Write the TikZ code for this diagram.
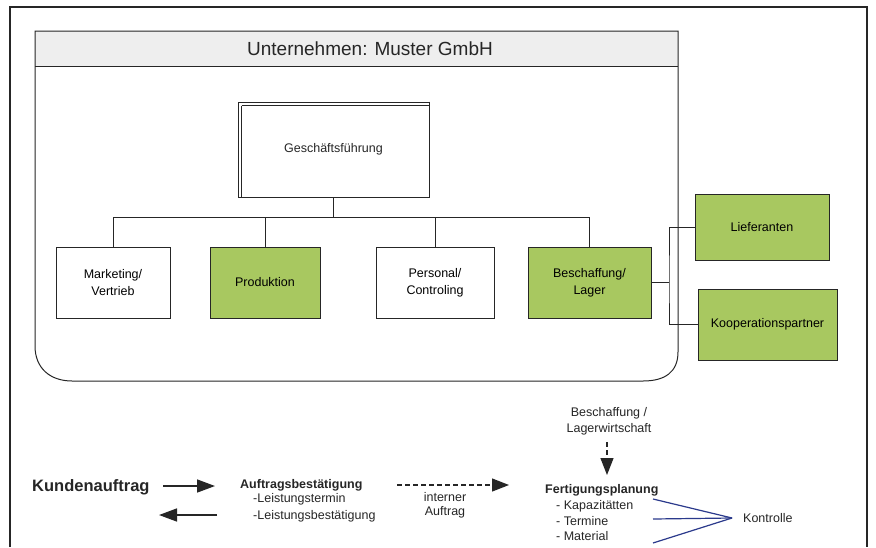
\documentclass[tikz,border=0pt]{standalone}
\usepackage{fontspec}
\setmainfont{Liberation Sans}
\usetikzlibrary{arrows.meta}
\definecolor{boxgreen}{HTML}{A8C860}
\definecolor{hdrgray}{HTML}{EEEEEE}
\definecolor{lineblue}{HTML}{2B3A8C}
\definecolor{ink}{HTML}{262626}
\begin{document}
\begin{tikzpicture}[x=1pt,y=-1pt,
  orgbox/.style={draw=ink, line width=0.9pt, inner sep=0pt, minimum height=71pt, align=center, font=\fontsize{12.5}{17}\selectfont},
  greenbox/.style={orgbox, fill=boxgreen},
  txt/.style={inner sep=0pt, font=\fontsize{12.5}{15}\selectfont, text=ink},
  boldtxt/.style={txt, font=\fontsize{12.5}{15}\selectfont\bfseries},
  conn/.style={draw=ink, line width=0.9pt},
  bigarrow/.style={draw=ink, line width=1.5pt, -{Triangle[length=18pt,width=13pt]}},
  dasharrow/.style={draw=ink, line width=1.2pt, dash pattern=on 5pt off 3pt, -{Triangle[length=17pt,width=13pt]}},
  bluelink/.style={draw=lineblue, line width=1.2pt}
]
\useasboundingbox (0,0) rectangle (876,547);
\fill[white] (0,0) rectangle (876,547);

% outer frame
\draw[line width=1.6pt, ink] (10,547) -- (10,7) -- (867,7) -- (867,547);

% company frame
\fill[hdrgray] (35,31) rectangle (678,66);
\draw[ink, line width=1pt] (35,66) -- (678,66);
\draw[ink, line width=1pt] (35,31) -- (35,346) .. controls (35,368) and (50,381) .. (72,381) -- (643,381) .. controls (665,381) and (678,372) .. (678,352) -- (678,31) -- cycle;
\node[inner sep=0pt, font=\fontsize{19}{19}\selectfont, text=ink] (hdr) at (370,48.5) {Unternehmen: Muster GmbH};

% Geschaeftsfuehrung
\node[draw=ink, line width=1pt, inner sep=0pt, minimum width=191pt, minimum height=95pt, font=\fontsize{12.5}{15}\selectfont, text=ink] (gf) at (333.5,149.5) {Geschäftsführung};
\draw[ink, line width=1pt] ([shift={(4,4)}]gf.north west) -- ([shift={(0,4)}]gf.north east);
\draw[ink, line width=1pt] ([shift={(4,4)}]gf.north west) -- ([shift={(4,0)}]gf.south west);
\draw[ink, line width=1.2pt] (gf.north east) -- (gf.south east) -- (gf.south west);

% departments
\node[orgbox, minimum width=114pt] (mk) at (113,282.5) {Marketing/\\Vertrieb};
\node[greenbox, minimum width=110pt] (pr) at (265,282.5) {Produktion};
\node[orgbox, minimum width=118pt] (pc) at (435,282.5) {Personal/\\Controling};
\node[greenbox, minimum width=123pt] (bl) at (589.5,282.5) {Beschaffung/\\Lager};

% external partners
\node[greenbox, minimum width=134pt, minimum height=66pt] (lf) at (762,227) {Lieferanten};
\node[greenbox, minimum width=139pt, minimum height=71pt] (kp) at (767.5,324.5) {Kooperationspartner};

% tree connectors
\coordinate (bar) at (333.5,217);
\draw[conn] (gf.south) -- (bar);
\draw[conn] (bar) -| (mk.north);
\draw[conn] (bar) -| (pr.north);
\draw[conn] (bar) -| (pc.north);
\draw[conn] (bar) -| (bl.north);

% partner connectors
\coordinate (pj) at (669,282.5);
\draw[conn] (bl.east) -- (pj);
\draw[conn] (lf.west) -| (pj) |- (kp.west);

% bottom process
\node[txt, anchor=base west, font=\fontsize{16.5}{18}\selectfont\bfseries] (ka) at (32,491) {Kundenauftrag};
\node[boldtxt, anchor=base west] (ab) at (240,488) {Auftragsbestätigung};
\node[txt, anchor=base west] (lt) at (253,502) {-Leistungstermin};
\node[txt, anchor=base west] (lb) at (253,519) {-Leistungsbestätigung};

\coordinate (a1s) at (163,486);
\coordinate (a1e) at (215,486);
\draw[bigarrow] (a1s) -- (a1e);
\coordinate (a2s) at (217,515);
\coordinate (a2e) at (159,515);
\draw[bigarrow] (a2s) -- (a2e);

\coordinate (ds) at (397,485);
\coordinate (de) at (509,485);
\draw[dasharrow] (ds) -- (de);
\node[txt, anchor=base] (ia1) at (445,501) {interner};
\node[txt, anchor=base] (ia2) at (445,515) {Auftrag};

\node[txt, anchor=base] (bw1) at (609,416.5) {Beschaffung /};
\node[txt, anchor=base] (bw2) at (609,432.5) {Lagerwirtschaft};
\coordinate (vs) at (607,442);
\coordinate (ve) at (607,475);
\draw[dasharrow] (vs) -- (ve);

\node[boldtxt, anchor=base west] (fp) at (545,493) {Fertigungsplanung};
\node[txt, anchor=base west] (f1) at (556,509) {- Kapazitätten};
\node[txt, anchor=base west] (f2) at (556,525.5) {- Termine};
\node[txt, anchor=base west] (f3) at (556,540.5) {- Material};

\node[txt, anchor=base west] (ko) at (743,522) {Kontrolle};
\coordinate (kc) at (732,518);
\coordinate (b1) at (653,499);
\coordinate (b2) at (653,519);
\coordinate (b3) at (653,543);
\draw[bluelink] (b1) -- (kc);
\draw[bluelink] (b2) -- (kc);
\draw[bluelink] (b3) -- (kc);
\end{tikzpicture}
\end{document}
